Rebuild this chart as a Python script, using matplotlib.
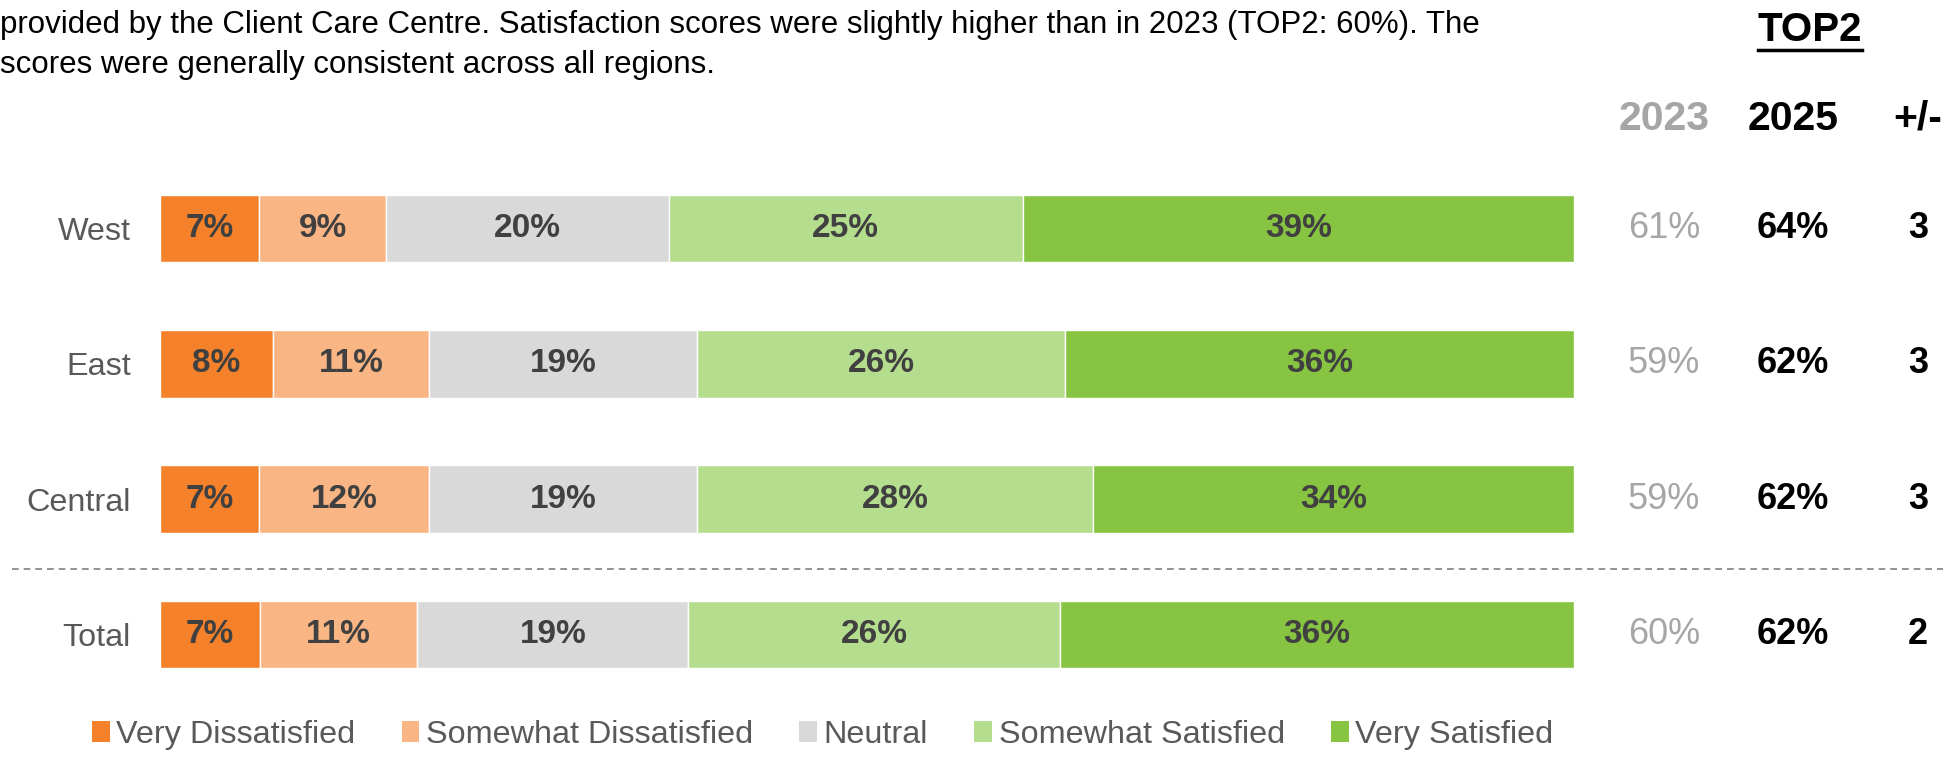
import matplotlib
matplotlib.use("Agg")
import matplotlib.pyplot as plt
import numpy as np
from matplotlib.patches import Patch
from matplotlib.lines import Line2D
from matplotlib.transforms import blended_transform_factory

plt.rcParams['font.family'] = ['Liberation Sans', 'DejaVu Sans']

# ---- data ----
regions = ["West", "East", "Central", "Total"]
levels = ["Very Dissatisfied", "Somewhat Dissatisfied", "Neutral",
          "Somewhat Satisfied", "Very Satisfied"]
very_dissatisfied = [7, 8, 7, 7]
somewhat_dissatisfied = [9, 11, 12, 11]
neutral = [20, 19, 19, 19]
somewhat_satisfied = [25, 26, 28, 26]
very_satisfied = [39, 36, 34, 36]
top2_2023 = [61, 59, 59, 60]
top2_2025 = [64, 62, 62, 62]
top2_change = [3, 3, 3, 2]

intro_lines = [
    "provided by the Client Care Centre. Satisfaction scores were slightly higher than in 2023 (TOP2: 60%). The",
    "scores were generally consistent across all regions.",
]

colors = ["#F5822A", "#F9B584", "#D9D9D9", "#B5DD8E", "#86C441"]

W, H = 1959, 757
fig = plt.figure(figsize=(W / 100, H / 100), dpi=100)
fig.patch.set_facecolor("white")

ax = fig.add_axes([160 / W, 1 - 702 / H, (1574 - 160) / W, (702 - 161) / H])

series = [very_dissatisfied, somewhat_dissatisfied, neutral,
          somewhat_satisfied, very_satisfied]
data = np.array(series, dtype=float)
row_totals = data.sum(axis=0)
y = np.arange(len(regions))

left = np.zeros(len(regions))
for vals, col, name in zip(series, colors, levels):
    share = np.array(vals) / row_totals * 100
    ax.barh(y, share, left=left, height=0.5, color=col, edgecolor="white",
            linewidth=1, label=name)
    for yi, l, s, v in zip(y, left, share, vals):
        ax.text(l + s / 2, yi, f"{v}%", ha="center", va="center",
                fontsize=24, fontweight="bold", color="#404040")
    left += share

ax.set_xlim(0, 100)
ax.set_ylim(len(regions) - 0.5, -0.5)
for sp in ax.spines.values():
    sp.set_visible(False)
ax.set_xticks([])
ax.set_yticks(y)
ax.set_yticklabels(regions)
ax.tick_params(axis="y", length=0, pad=21, labelsize=23.3, labelcolor="#595959")

# separator between regions and total
trans = blended_transform_factory(fig.transFigure, ax.transData)
ax.plot([12 / W, 1943 / W], [2.52, 2.52], transform=trans, clip_on=False,
        color="#808080", linewidth=1.2, linestyle=(0, (4, 3)))

# TOP2 columns
col_x = {"2023": 1664 / W, "2025": 1793 / W, "diff": 1918 / W}
for yi, a, b, d in zip(y, top2_2023, top2_2025, top2_change):
    ax.text(col_x["2023"], yi, f"{a}%", transform=trans, ha="center",
            va="center", fontsize=26, color="#A6A6A6")
    ax.text(col_x["2025"], yi, f"{b}%", transform=trans, ha="center",
            va="center", fontsize=26, fontweight="bold", color="black")
    ax.text(col_x["diff"], yi, f"{d}", transform=trans, ha="center",
            va="center", fontsize=26, fontweight="bold", color="black")

hy = 1 - 119 / H
fig.text(col_x["2023"], hy, "2023", ha="center", va="center", fontsize=29.5,
         fontweight="bold", color="#A6A6A6")
fig.text(col_x["2025"], hy, "2025", ha="center", va="center", fontsize=29.5,
         fontweight="bold", color="black")
fig.text(col_x["diff"], hy, "+/-", ha="center", va="center", fontsize=29.5,
         fontweight="bold", color="black")

top2 = fig.text(1810 / W, 1 - 30 / H, "TOP2", ha="center", va="center",
                fontsize=29, fontweight="bold", color="black")

# intro paragraph
for i, line in enumerate(intro_lines):
    fig.text(0, 1 - (25 + 40 * i) / H, line, ha="left", va="center",
             fontsize=22.5, color="black")

# legend
handles = [Patch(facecolor=c, edgecolor="none", label=n)
           for c, n in zip(colors, levels)]
fig.legend(handles=handles, loc="center left",
           bbox_to_anchor=(92 / W, 1 - 735 / H), ncol=5, frameon=False,
           fontsize=23.3, handlelength=0.55, handleheight=0.6,
           handletextpad=0.2, columnspacing=1.43, labelcolor="#595959",
           borderpad=0, borderaxespad=0)

# underline the TOP2 heading
fig.canvas.draw()
bb = top2.get_window_extent()
uy = (bb.y0 - 1) / H
fig.add_artist(Line2D([bb.x0 / W, bb.x1 / W], [uy, uy],
                      transform=fig.transFigure, color="black", linewidth=2.5))

fig.savefig("out.png", dpi=100, facecolor="white")
